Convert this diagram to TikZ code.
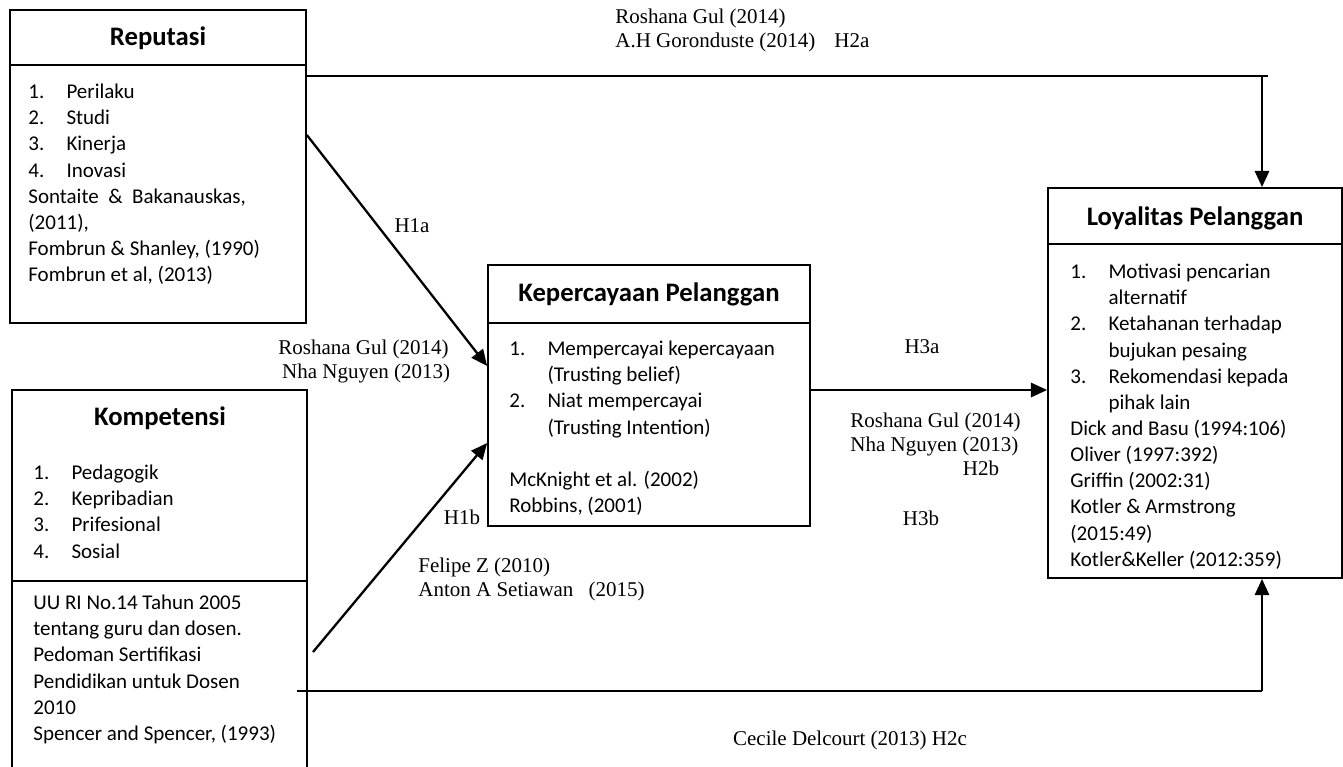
\documentclass[tikz,border=0pt]{standalone}
\usepackage{fontspec}
\setmainfont{Liberation Serif}
\newfontfamily\calibri{Carlito}
\usetikzlibrary{arrows.meta,calc}
\newcommand{\lnum}[1]{\makebox[20pt][l]{#1}}

\begin{document}
\begin{tikzpicture}[x=0.524pt,y=-0.524pt,
    box/.style={draw,line width=0.9pt,inner sep=0pt},
    ttl/.style={font=\calibri\bfseries\fontsize{14}{16.8}\selectfont,inner sep=0pt},
    txt/.style={font=\calibri\fontsize{11}{13.7}\selectfont,align=left,anchor=north west,inner sep=0pt},
    lbl/.style={font=\fontsize{11}{12.6}\selectfont,align=left,inner sep=0pt},
    hyp/.style={line width=1.2pt,-{Triangle[length=8.5pt,width=7.5pt]}}]
  \useasboundingbox (0,0) rectangle (1343,766);
  \clip (0,0) rectangle (1343,766);

  \node[box,minimum width=155.1pt,minimum height=164pt] (rep) at (158,166.5) {};
  \node[box,minimum width=154.6pt,minimum height=204.4pt] (kom) at (159.5,585) {};
  \node[box,minimum width=168.7pt,minimum height=136.8pt] (kep) at (649,395.5) {};
  \node[box,minimum width=154.1pt,minimum height=204.4pt] (loy) at (1195,383) {};

  \draw[line width=0.9pt] (rep.west |- 0,65) -- (rep.east |- 0,65);
  \draw[line width=0.9pt] (kom.west |- 0,581) -- (kom.east |- 0,581);
  \draw[line width=0.9pt] (kep.west |- 0,323) -- (kep.east |- 0,323);
  \draw[line width=0.9pt] (loy.west |- 0,244) -- (loy.east |- 0,244);

  \node[ttl] (repT) at (158,38) {Reputasi};
  \node[ttl] (komT) at (160,418) {Kompetensi};
  \node[ttl] (kepT) at (649,294) {Kepercayaan Pelanggan};
  \node[ttl] (loyT) at (1195,218) {Loyalitas Pelanggan};

  \node[txt] (repL) at (28,80) {\strut\lnum{1.}Perilaku\\\lnum{2.}Studi\\\lnum{3.}Kinerja\\\lnum{4.}Inovasi\\\makebox[114pt][s]{Sontaite \& Bakanauskas,}\\(2011),\\Fombrun \& Shanley, (1990)\\Fombrun et al, (2013)};
  \node[txt] (komL) at (33,461) {\strut\lnum{1.}Pedagogik\\\lnum{2.}Kepribadian\\\lnum{3.}Prifesional\\\lnum{4.}Sosial};
  \node[txt] (komR) at (33,591) {\strut UU RI No.14 Tahun 2005\\tentang guru dan dosen.\\Pedoman Sertifikasi\\Pendidikan untuk Dosen\\2010\\Spencer and Spencer, (1993)};
  \node[txt] (kepL) at (509,337) {\strut\lnum{1.}Mempercayai kepercayaan\\\hspace*{20pt}(Trusting belief)\\\lnum{2.}Niat mempercayai\\\hspace*{20pt}(Trusting Intention)\\[13.7pt]McKnight et al. (2002)\\Robbins, (2001)};
  \node[txt] (loyL) at (1070,260) {\strut\lnum{1.}Motivasi pencarian\\\hspace*{20pt}alternatif\\\lnum{2.}Ketahanan terhadap\\\hspace*{20pt}bujukan pesaing\\\lnum{3.}Rekomendasi kepada\\\hspace*{20pt}pihak lain\\Dick and Basu (1994:106)\\Oliver (1997:392)\\Griffin (2002:31)\\Kotler \& Armstrong\\(2015:49)\\Kotler\&Keller (2012:359)};

  \node[lbl,anchor=north west] (cit1) at (615,6) {\strut Roshana Gul (2014)\\A.H Goronduste (2014)\hspace{10pt}H2a};
  \node[lbl] (h1a) at (412,226) {H1a};
  \node[lbl,anchor=north west] (cit2) at (278,337) {\strut Roshana Gul (2014)\\\hspace*{2pt}Nha Nguyen (2013)};
  \node[lbl] (h3a) at (922,347) {H3a};
  \node[lbl,anchor=north west] (cit3) at (850,410) {\strut Roshana Gul (2014)\\Nha Nguyen (2013)\\\hspace*{59pt}H2b};
  \node[lbl] (h3b) at (921,518) {H3b};
  \node[lbl] (h1b) at (462,517) {H1b};
  \node[lbl,anchor=north west] (cit4) at (418,555) {\strut Felipe Z (2010)\\Anton A Setiawan\hspace{8pt}(2015)};
  \node[lbl] (cit5) at (850,740) {Cecile Delcourt (2013) H2c};

  \coordinate (topR) at (1262,76);
  \coordinate (botR) at (1262,691);
  \coordinate (h1bS) at (313,652);
  \draw[line width=1.2pt] (rep.east |- topR) -- ($(topR)+(6,0)$);
  \draw[hyp] (topR) -- (topR |- loy.north);
  \draw[line width=1.2pt] ($(kom.east |- botR)+(-11,0)$) -- (botR);
  \draw[hyp] (botR) -- (botR |- loy.south);
  \draw[hyp] (rep.east |- 0,135) -- (kep.west |- 0,366);
  \draw[hyp] (h1bS) -- (kep.west |- 0,443);
  \draw[hyp] (kep.east |- 0,390) -- (loy.west |- 0,390);
\end{tikzpicture}
\end{document}
